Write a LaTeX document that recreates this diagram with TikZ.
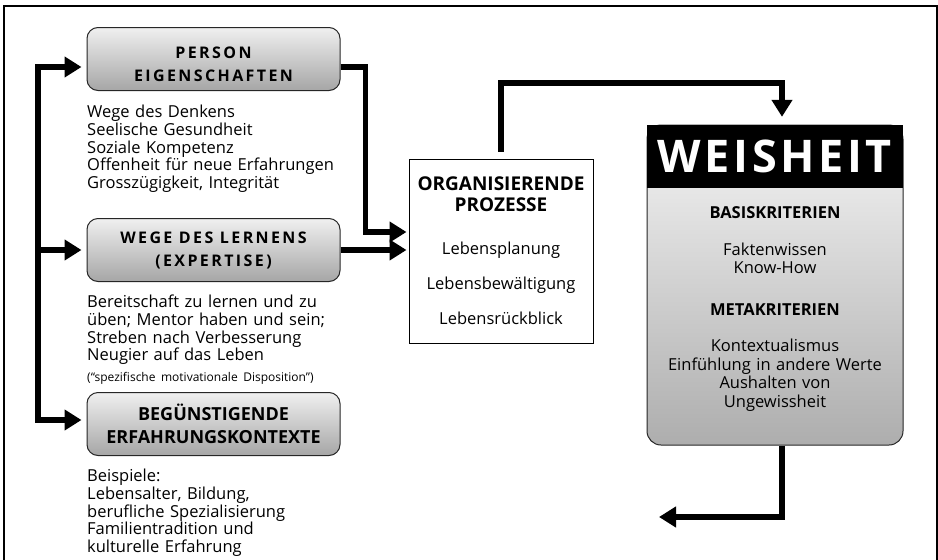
\documentclass[tikz,border=0pt]{standalone}
\usepackage{fontspec}
\setmainfont{Open Sans}
\newfontfamily\spacedfont{Open Sans}[LetterSpace=15]
\newfontfamily\headfont{Open Sans}[LetterSpace=8]
\usetikzlibrary{arrows.meta}

\begin{document}
\begin{tikzpicture}[x=1pt,y=-1pt,
  greybox/.style={draw=black!85,line width=1pt,rounded corners=11pt,
    top color=black!6,bottom color=black!35,
    minimum width=253pt,minimum height=63pt,align=center,
    font=\spacedfont\bfseries\fontsize{16}{23}\selectfont},
  plainbox/.style={draw,line width=1pt,fill=white,minimum width=184pt,minimum height=184pt,
    text width=180pt,align=center,inner sep=0pt,font=\fontsize{16.5}{35}\selectfont},
  wisebody/.style={draw=black!85,line width=1pt,rounded corners=14pt,
    top color=black!4,bottom color=black!32,minimum width=256pt,minimum height=320pt},
  wisehead/.style={fill=black,text=white,minimum width=256pt,minimum height=63pt,
    font=\headfont\bfseries\fontsize{45}{45}\selectfont},
  wisetext/.style={text width=250pt,align=center,inner sep=0pt,anchor=north,
    font=\fontsize{16.5}{18.5}\selectfont},
  listtext/.style={text width=280pt,align=left,inner sep=0pt,anchor=north west,
    font=\fontsize{16.5}{17.7}\selectfont},
  flow/.style={line width=5.5pt,-{Triangle[length=17pt,width=20pt]}}]

  \useasboundingbox (0,0) rectangle (938,560);
  \draw[line width=1.5pt] (4,570) |- (937,6) -- (937,570);

  \node[greybox] (person) at (213.5,59) {\rule{0pt}{23pt}PERSON\\EIGENSCHAFTEN};
  \node[listtext] (persontext) at (87,105)
    {Wege des Denkens\\Seelische Gesundheit\\Soziale Kompetenz\\Offenheit für neue Erfahrungen\\Grosszügigkeit, Integrität};

  \node[greybox] (lernen) at (213.5,250) {WEGE DES LERNENS\\(EXPERTISE)};
  \node[listtext] (lernentext) at (87,295)
    {Bereitschaft zu lernen und zu\\üben; Mentor haben und sein;\\Streben nach Verbesserung\\Neugier auf das Leben\par
     {\fontsize{12}{21}\selectfont (“spezifische motivationale Disposition”)\par}};

  \node[greybox,font=\bfseries\fontsize{18}{23}\selectfont] (kontext) at (213.5,424) {BEGÜNSTIGENDE\\ERFAHRUNGSKONTEXTE};
  \node[listtext] (kontexttext) at (87,469)
    {Beispiele:\\Lebensalter, Bildung,\\berufliche Spezialisierung\\Familientradition und\\kulturelle Erfahrung};

  \node[plainbox] (prozesse) at (501,251)
    {{\bfseries\fontsize{19}{21}\selectfont ORGANISIERENDE\\PROZESSE\par}\vspace{8pt}
     Lebensplanung\\Lebensbewältigung\\Lebensrückblick};

  \node[wisebody] (weisheit) at (775,285) {};
  \node[wisehead] (kopf) at (775,156.5) {WEISHEIT};
  \node[wisetext] (kriterien) at (775,206)
    {{\bfseries\fontsize{16.5}{18.5}\selectfont BASISKRITERIEN\par}\vspace{18.5pt}
     Faktenwissen\\Know-How\par\vspace{23.5pt}
     {\bfseries METAKRITERIEN\par}\vspace{17.5pt}
     Kontextualismus\\Einfühlung in andere Werte\\Aushalten von\\Ungewissheit};

  % Verbindungen
  \coordinate (stamm) at (38,67);
  \coordinate (fuss) at (38,420);
  \draw[flow,shorten >=5pt] (fuss) |- ([yshift=-8pt]person.west);
  \draw[flow,shorten >=5pt] (stamm) |- ([yshift=4pt]kontext.west);
  \draw[flow,shorten >=5pt] (stamm |- lernen.west) -- (lernen.west);

  \draw[flow,shorten >=2pt] ([yshift=-8pt]person.east) -- ++(25,0) |- ([yshift=19pt]prozesse.west);
  \draw[flow,shorten >=2pt] (lernen.east) -- (lernen.east -| prozesse.west);

  \coordinate (oben) at (782,83);
  \draw[flow,shorten <=7pt,shorten >=8pt] (prozesse.north) |- (oben) -- (oben |- kopf.north);

  \coordinate (zurueck) at (659,517);
  \draw[flow] ([xshift=7pt]weisheit.south) |- (zurueck);
\end{tikzpicture}
\end{document}
